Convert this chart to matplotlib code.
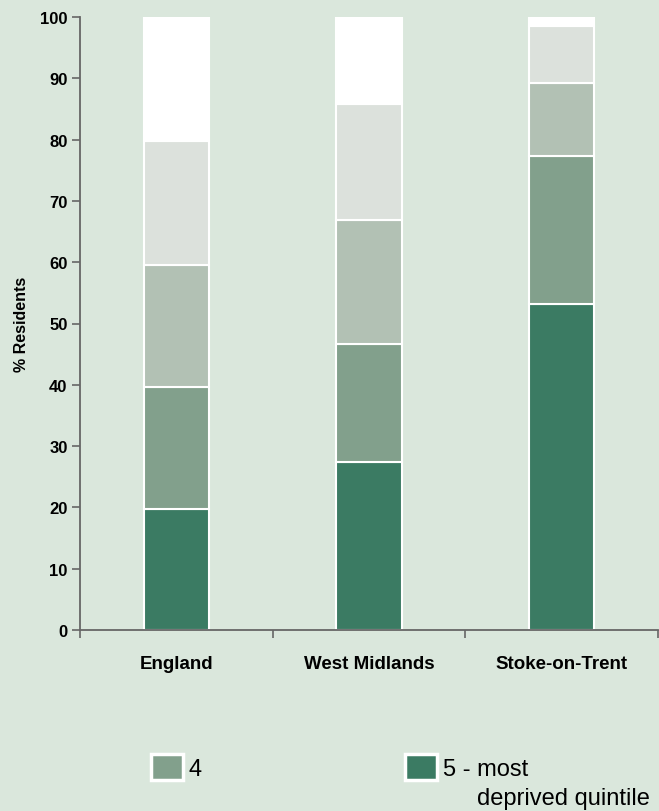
import matplotlib
matplotlib.use("Agg")
import matplotlib.pyplot as plt
from matplotlib.patches import Patch
import numpy as np

plt.rcParams['font.family'] = ['Liberation Sans', 'DejaVu Sans']

areas = ['England', 'West Midlands', 'Stoke-on-Trent']
# quintile shares per area, most deprived (5) first
q5 = [19.8, 27.4, 53.2]
q4 = [19.9, 19.3, 24.1]
q3 = [19.9, 20.2, 12.0]
q2 = [20.1, 18.9, 9.3]
q1 = [20.3, 14.2, 1.4]

layers = [q5, q4, q3, q2, q1]
colours = ['#3b7b63', '#82a08c', '#b2c1b4', '#dce1dc', '#ffffff']
bg = '#dae7dc'

fig = plt.figure(figsize=(6.59, 8.12), dpi=100, facecolor=bg)
ax = fig.add_axes([80 / 659, 1 - 631 / 812, 578 / 659, 613 / 812])
ax.set_facecolor(bg)

x = np.arange(len(areas))
bottom = np.zeros(len(areas))
for vals, col in zip(layers, colours):
    ax.bar(x, vals, width=0.34, bottom=bottom, color=col,
           edgecolor='white', linewidth=1.5)
    bottom += np.array(vals)

ax.set_xlim(-0.5, 2.5)
ax.set_ylim(0, 100)
ax.set_yticks(range(0, 101, 10))
ax.set_xticks(x)
ax.set_xticklabels(areas, fontsize=13.5, fontweight='bold')
ax.set_xticks([-0.5, 0.5, 1.5, 2.5], minor=True)
ax.tick_params(axis='x', which='major', length=0, pad=18)
ax.tick_params(axis='x', which='minor', length=6, width=1.2, color='#666666',
               direction='out')
ax.tick_params(axis='y', length=6, width=1.2, color='#666666', pad=3)
for lab in ax.get_yticklabels():
    lab.set_fontsize(12)
    lab.set_fontweight('bold')
ax.set_ylabel('% Residents', fontsize=11.5, fontweight='bold', labelpad=8)

for s in ['top', 'right']:
    ax.spines[s].set_visible(False)
for s in ['left', 'bottom']:
    ax.spines[s].set_color('#666666')
    ax.spines[s].set_linewidth(1.3)

# legend: only quintiles 4 and 5 are shown
fs = 17
leg_kw = dict(frameon=False, fontsize=fs, borderpad=0, borderaxespad=0,
              handlelength=1.35, handleheight=1.3, handletextpad=0.25,
              loc='center left')
leg1 = fig.legend(handles=[Patch(facecolor=colours[1], edgecolor='white', linewidth=2.5)],
                  labels=['4'], bbox_to_anchor=(151 / 659, 1 - 768 / 812), **leg_kw)
leg2 = fig.legend(handles=[Patch(facecolor=colours[0], edgecolor='white', linewidth=2.5)],
                  labels=['5 - most'], bbox_to_anchor=(405 / 659, 1 - 768 / 812), **leg_kw)

# second line of the quintile 5 label, hanging under "most"
fig.canvas.draw()
inv = fig.transFigure.inverted()
tb = leg2.get_texts()[0].get_window_extent().transformed(inv)
tmp = fig.text(0, 0, 'most', fontsize=fs)
mb = tmp.get_window_extent().transformed(inv)
tmp.remove()
fig.text(tb.x1 - mb.width, tb.y0 - 29 / 812, 'deprived quintile', fontsize=fs,
         ha='left', va='bottom')

fig.savefig('out.png', dpi=100, facecolor=bg)
